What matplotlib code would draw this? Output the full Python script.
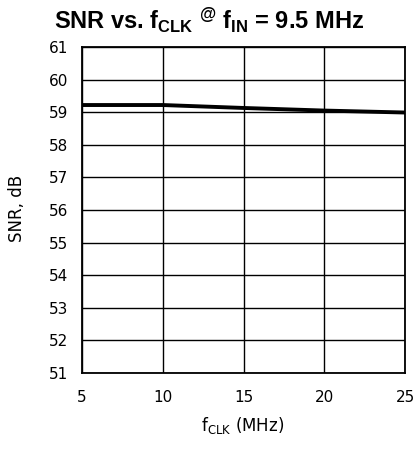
import matplotlib
matplotlib.use("Agg")
import matplotlib.pyplot as plt

plt.rcParams['mathtext.fontset'] = 'custom'
plt.rcParams['mathtext.rm'] = 'DejaVu Sans'
plt.rcParams['mathtext.bf'] = 'Liberation Sans:bold'
plt.rcParams['mathtext.default'] = 'regular'

fclk = [5, 10, 15, 20, 25]
snr = [59.22, 59.22, 59.13, 59.05, 58.99]
xticks = [5, 10, 15, 20, 25]
yticks = list(range(51, 62))

fig = plt.figure(figsize=(4.19, 4.5), dpi=100)
ax = fig.add_axes([82/419, 1-373/450, (405-82)/419, (373-47)/450])
ax.plot(fclk, snr, color='black', lw=2.8, solid_capstyle='butt')
ax.set_xlim(5, 25)
ax.set_ylim(51, 61)
ax.set_xticks(xticks)
ax.set_yticks(yticks)
ax.grid(True, color='black', lw=1.0)
for s in ax.spines.values():
    s.set_linewidth(1.3)
ax.tick_params(length=0, labelsize=11)
ax.tick_params(axis='y', pad=10)
ax.tick_params(axis='x', pad=12)
fig.text(243/419, 1-426/450, r'f$_{CLK}$ (MHz)', fontsize=12, ha='center', va='center')
fig.text(17/419, 1-208/450, 'SNR, dB', fontsize=12, rotation=90, ha='center', va='center')
fig.text(0.5, 1-20/450,
         r'SNR vs. f$_{\mathbf{CLK}}$ $^{\mathbf{@}}$ f$_{\mathbf{IN}}$ = 9.5 MHz',
         ha='center', va='center', fontsize=17, fontweight='bold',
         family='Liberation Sans')
fig.savefig('out.png', dpi=100)
